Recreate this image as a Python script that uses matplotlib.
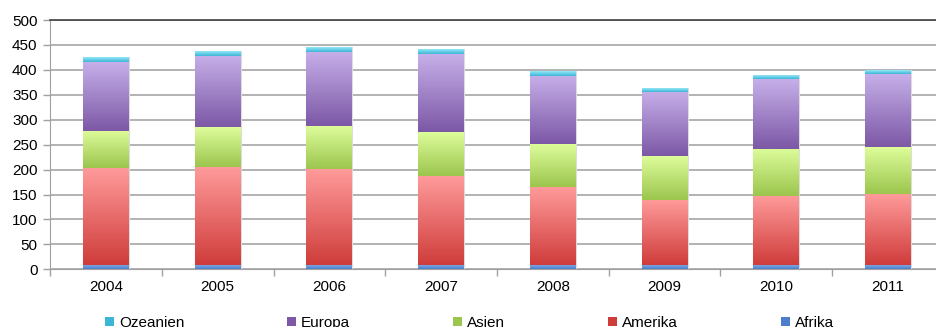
import numpy as np
import matplotlib.pyplot as plt
from matplotlib.colors import to_rgb
from matplotlib.patches import Patch

plt.rcParams['font.family'] = ['Liberation Sans', 'DejaVu Sans']

years = ['2004', '2005', '2006', '2007', '2008', '2009', '2010', '2011']
afrika = [8, 8, 8, 8, 8, 8, 8, 8]
amerika = [195, 198, 193, 180, 157, 131, 139, 144]
asien = [75, 79, 86, 88, 86, 88, 95, 93]
europa = [138, 143, 149, 156, 137, 129, 139, 146]
ozeanien = [10, 9, 10, 10, 10, 7, 8, 8]

# (name, values, top colour, bottom colour), stacked bottom-up
series = [
    ('Afrika', afrika, '#7BA7E6', '#4C7ECB'),
    ('Amerika', amerika, '#FF9B9B', '#CF3D3B'),
    ('Asien', asien, '#DDFC9A', '#9CC64E'),
    ('Europa', europa, '#C6AFE9', '#7C58A6'),
    ('Ozeanien', ozeanien, '#92E8F7', '#3DB5D6'),
]


def gradient(top, bottom, n=64):
    t = np.linspace(0, 1, n)[:, None]
    a, b = np.array(to_rgb(bottom)), np.array(to_rgb(top))
    return (a + (b - a) * t)[:, None, :]


fig = plt.figure(figsize=(9.37, 3.27), dpi=100)
ax = fig.add_axes([50 / 937, 57.7 / 327, 894 / 937, 249.3 / 327])

x = np.arange(len(years))
base = np.zeros(len(years))
for name, vals, top, bot in series:
    bars = ax.bar(x, vals, 0.41, bottom=base, color=bot, edgecolor='#DCDCDC',
                  linewidth=0.8, zorder=3)
    img = gradient(top, bot)
    for b in bars:
        im = ax.imshow(img, extent=[b.get_x(), b.get_x() + b.get_width(),
                                    b.get_y(), b.get_y() + b.get_height()],
                       origin='lower', aspect='auto', zorder=3.5)
        im.set_clip_path(b)
    base += np.array(vals)

ax.set_xlim(-0.5, len(years) - 0.5)
ax.set_ylim(0, 500)
ax.set_yticks(np.arange(0, 501, 50))
ax.set_xticks(x)
ax.set_xticklabels(years)
ax.set_xticks(np.arange(-0.5, len(years), 1), minor=True)
ax.tick_params(axis='x', which='major', length=0, pad=8, labelsize=11)
ax.tick_params(axis='x', which='minor', length=5, color='#A0A0A0', width=1)
ax.tick_params(axis='y', length=5, color='#A0A0A0', width=1, labelsize=11, pad=4)

ax.yaxis.grid(True, color='#A6A6A6', linewidth=1.2, zorder=0)
ax.set_axisbelow(True)
for side in ['left', 'bottom']:
    ax.spines[side].set_color('#A0A0A0')
ax.spines['top'].set_color('#404040')
ax.spines['top'].set_linewidth(1.2)
ax.spines['right'].set_visible(False)

handles = [Patch(facecolor=bot, edgecolor='none', label=name)
           for name, vals, top, bot in reversed(series)]
fig.legend(handles=handles, loc='center', bbox_to_anchor=(0.501, 4 / 327),
           ncol=5, frameon=False, fontsize=11, handlelength=0.6,
           handleheight=0.6, handletextpad=0.3, columnspacing=6.75)

fig.savefig('out.png', dpi=100)
